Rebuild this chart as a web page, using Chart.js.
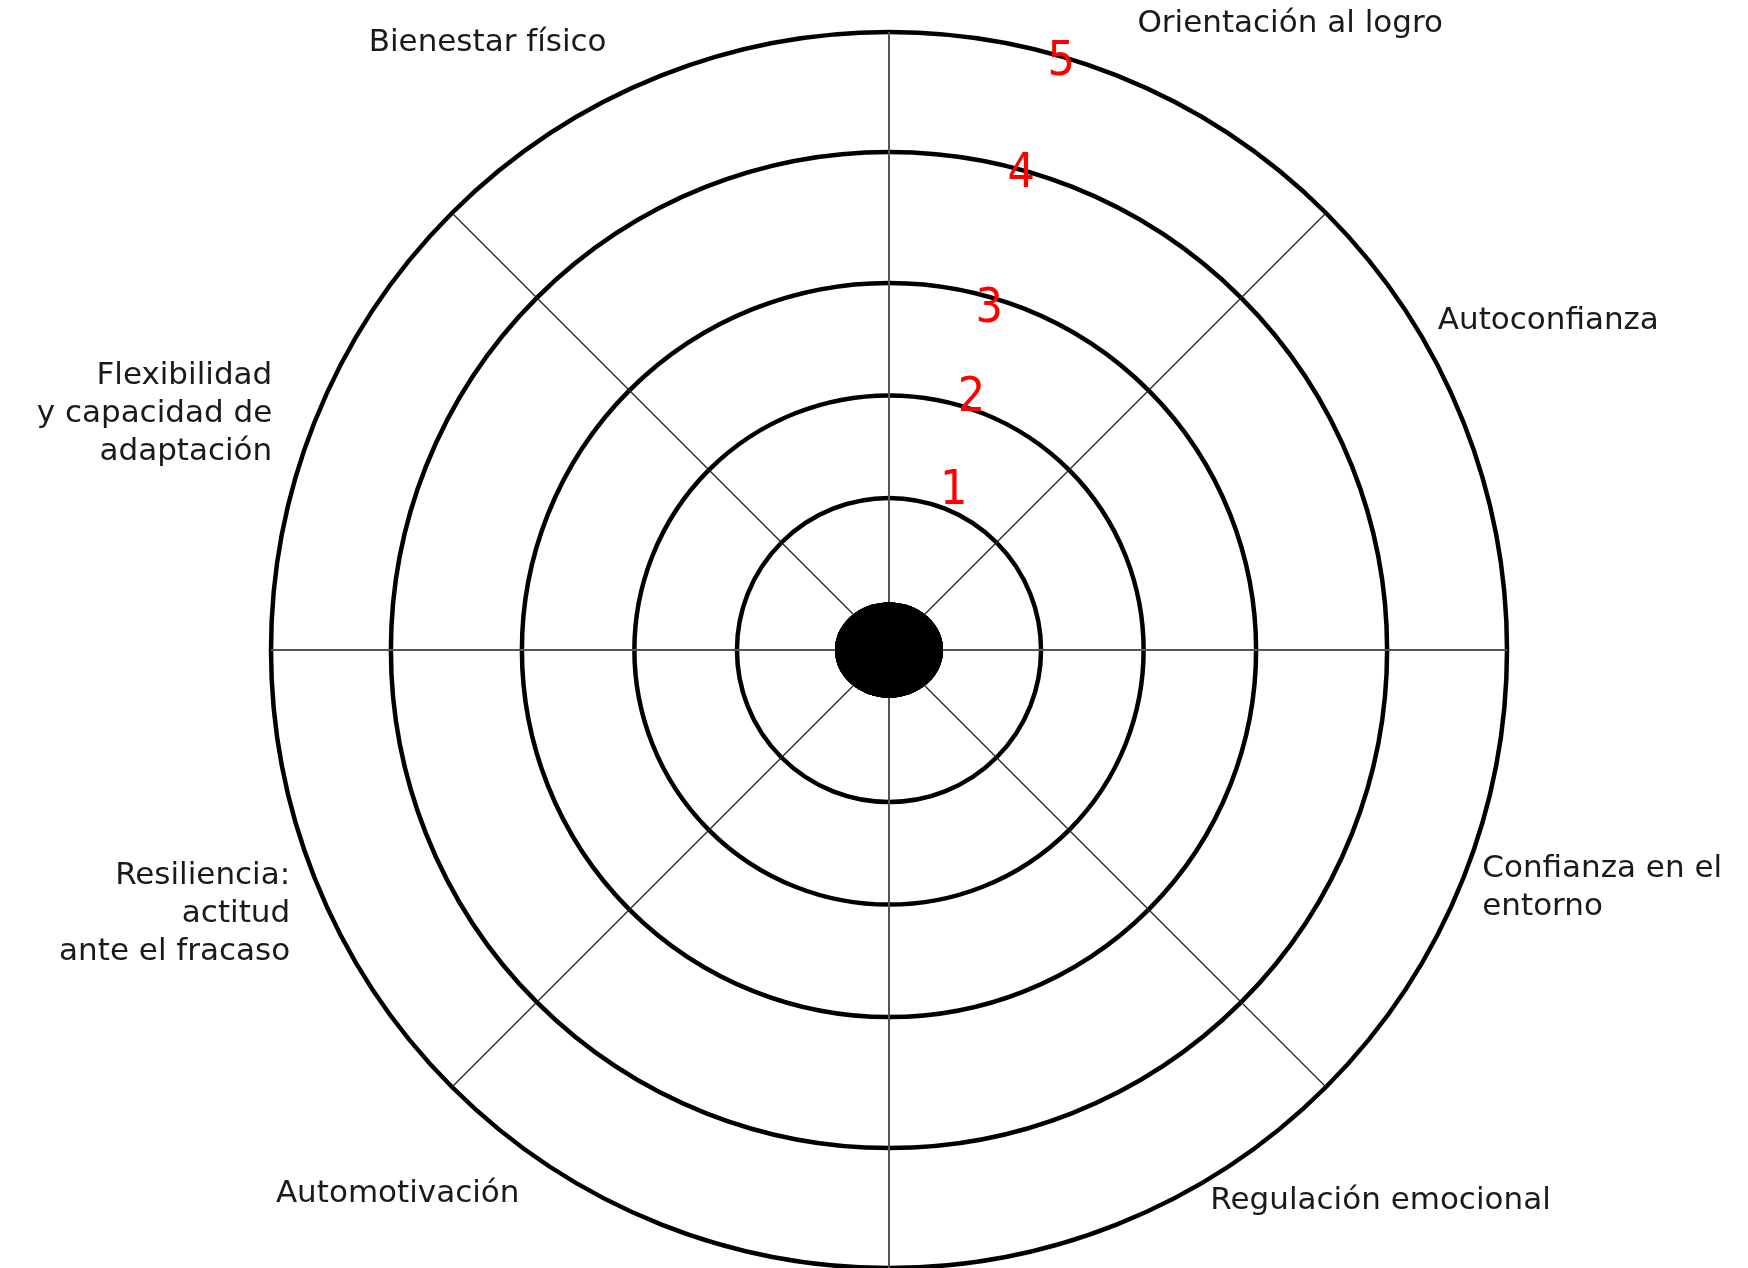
<!DOCTYPE html>
<html>
<head>
<meta charset="utf-8">
<script src="https://cdn.jsdelivr.net/npm/chart.js@4.4.0/dist/chart.umd.min.js"></script>
<style>
    html, body { margin: 0; padding: 0; background: #fff; }
    canvas { display: block; }
</style>
</head>
<body>
<canvas id="myChart" width="1748" height="1268"></canvas>
<script>
// sectors, clockwise from the top spoke
var categories = [
    'Orientación al logro',
    'Autoconfianza',
    ['Confianza en el', 'entorno'],
    'Regulación emocional',
    'Automotivación',
    ['Resiliencia:', 'actitud', 'ante el fracaso'],
    ['Flexibilidad', 'y capacidad de', 'adaptación'],
    'Bienestar físico'
];
var tickLabels = ['1', '2', '3', '4', '5'];
// the rings are not evenly spaced in the drawing
var ringValues = [0, 1.23, 2.06, 2.97, 4.03, 5];
var centerMark = [0, 0, 0, 0, 0, 0, 0, 0];

// where each sector label sits, in units of the outer radius
var labelPlace = [
    { x: 0.402, y: -1.013, align: 'left' },
    { x: 0.888, y: -0.532, align: 'left' },
    { x: 0.960, y: 0.355, align: 'left' },
    { x: 0.520, y: 0.892, align: 'left' },
    { x: -0.598, y: 0.880, align: 'right' },
    { x: -0.969, y: 0.365, align: 'right' },
    { x: -0.998, y: -0.444, align: 'right' },
    { x: -0.457, y: -0.982, align: 'right' }
];
// red numbers: angle from the top spoke and a small radial nudge
var tickAngle = [22, 18, 16.3, 15.5, 16.3];
var tickNudge = [21, 12, -10, -3, -4];

// black oval in the middle
var dot = document.createElement('canvas');
dot.width = 108;
dot.height = 96;
var dctx = dot.getContext('2d');
dctx.fillStyle = '#000';
dctx.beginPath();
dctx.ellipse(54, 48, 54, 47.5, 0, 0, Math.PI * 2);
dctx.fill();

var wheelText = {
    id: 'wheelText',
    afterDraw: function (chart) {
        var r = chart.scales.r;
        var c = chart.ctx;
        c.save();
        c.font = '31px "DejaVu Sans", sans-serif';
        c.fillStyle = '#1a1a1a';
        c.textBaseline = 'middle';
        chart.data.labels.forEach(function (lbl, i) {
            var p = labelPlace[i];
            var lines = [].concat(lbl);
            c.textAlign = p.align;
            lines.forEach(function (t, k) {
                c.fillText(t, r.xCenter + p.x * r.drawingArea, r.yCenter + p.y * r.drawingArea + k * 38);
            });
        });
        // red ring numbers
        c.font = '48px "Liberation Sans Narrow", "DejaVu Sans Condensed", sans-serif';
        c.fillStyle = '#ff0000';
        c.textAlign = 'center';
        tickLabels.forEach(function (t, i) {
            var d = r.getDistanceFromCenterForValue(ringValues[i + 1]) + tickNudge[i];
            var a = tickAngle[i] * Math.PI / 180;
            c.fillText(t, r.xCenter + d * Math.sin(a), r.yCenter - d * Math.cos(a) + 2);
        });
        c.restore();
    }
};

var ctx = document.getElementById('myChart').getContext('2d');
var myChart = new Chart(ctx, {
    type: 'radar',
    data: {
        labels: categories,
        datasets: [{
            data: centerMark,
            pointStyle: dot,
            pointRadius: 51,
            pointHoverRadius: 51,
            pointBorderWidth: 0,
            borderWidth: 0,
            borderColor: 'rgba(0,0,0,0)',
            backgroundColor: 'rgba(0,0,0,0)',
            fill: false
        }]
    },
    options: {
        responsive: false,
        animation: false,
        events: [],
        layout: { padding: { top: 32, bottom: 0, left: 271, right: 241 } },
        plugins: {
            legend: { display: false },
            tooltip: { enabled: false }
        },
        scales: {
            r: {
                min: 0,
                max: 5,
                afterBuildTicks: function (scale) {
                    scale.ticks = ringValues.map(function (v) { return { value: v }; });
                },
                ticks: { display: false },
                pointLabels: { display: false },
                grid: { circular: true, color: '#000', lineWidth: 4.5 },
                angleLines: {
                    color: function (c) { return c.index % 2 ? '#222' : '#555'; },
                    lineWidth: function (c) { return c.index % 2 ? 1.2 : 2; }
                }
            }
        }
    },
    plugins: [wheelText]
});
</script>
</body>
</html>
